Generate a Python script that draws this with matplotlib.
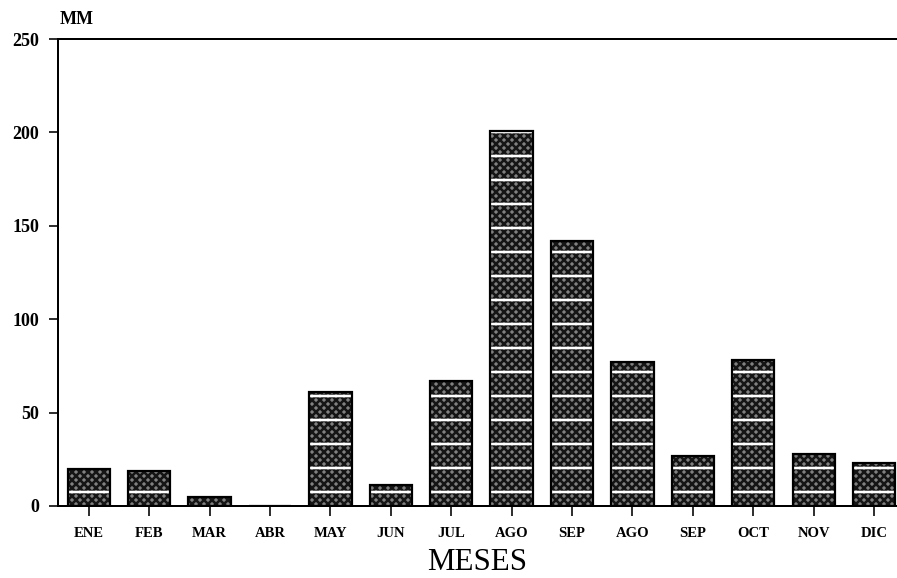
#!/usr/bin/python
# -*- coding: utf-8 -*-
# monthly rainfall bar chart (MM per month), scanned-report look

import numpy as np
import matplotlib as mpl
mpl.use('Agg')
from matplotlib import pyplot as plt

##########################################################################################
# data

months = ['ENE', 'FEB', 'MAR', 'ABR', 'MAY', 'JUN', 'JUL',
          'AGO', 'SEP', 'AGO', 'SEP', 'OCT', 'NOV', 'DIC']
rain_mm = [20, 19, 5, 0, 61, 11, 67, 201, 142, 77, 27, 78, 28, 23]
yticks = [0, 50, 100, 150, 200, 250]

def Plot(labels, values, outname = 'out.png'):

    DPI = 144.0   # chosen so that the 6 lines/inch '-' hatch lands every ~24 px

    mpl.rc('font', **{'family': 'serif', 'serif': ['Liberation Serif', 'DejaVu Serif']})
    mpl.rc('axes', linewidth = 1.0)
    mpl.rcParams['hatch.linewidth'] = 1.3

    ######################################################################################
    # set up figure
    f = plt.figure(figsize = (897.0 / DPI, 578.0 / DPI), dpi = DPI)
    ax1 = f.add_axes([58.0 / 897, 72.0 / 578, 1.0 - 58.0 / 897, (506.0 - 39.0) / 578])

    ax1.spines['right'].set_visible(False)

    ######################################################################################
    # bars: stippled grey fill, white horizontal bands, black outline
    x = np.arange(len(labels))
    barWidth = 0.70

    ax1.bar(x, values, width = barWidth,
            facecolor = '#808080', edgecolor = '#151515',
            hatch = 'xxxxxx', linewidth = 0.0, zorder = 2)
    ax1.bar(x, values, width = barWidth,
            fill = False, edgecolor = 'white',
            hatch = '-', linewidth = 0.0, zorder = 3)
    ax1.bar(x, values, width = barWidth,
            fill = False, edgecolor = 'black',
            linewidth = 1.1, zorder = 4)

    ######################################################################################
    # axes format
    ax1.set_xlim(-0.51, 13.38)
    ax1.set_ylim(0, 250)

    ax1.set_xticks(x)
    ax1.set_xticklabels(labels, fontsize = 7.3, fontweight = 'bold')
    ax1.set_yticks(yticks)
    ax1.set_yticklabels([str(v) for v in yticks], fontsize = 9.0, fontweight = 'bold')

    ax1.tick_params('x', direction = 'out', length = 5.0, width = 0.8, pad = 5.5)
    ax1.tick_params('y', direction = 'out', length = 4.5, width = 0.8, pad = 5.0)

    ######################################################################################
    # labeling
    ax1.set_xlabel('MESES', fontsize = 15.5)
    ax1.xaxis.labelpad = 4.0

    ax1.annotate('MM',
                 xy = (0.0, 1.0), xycoords = 'axes fraction',
                 xytext = (1.0, 5.5), textcoords = 'offset points',
                 fontsize = 9.0, fontweight = 'bold',
                 ha = 'left', va = 'bottom')

    ######################################################################################
    # save to file
    f.savefig(outname, dpi = DPI, facecolor = 'white')
    plt.close(f)

if __name__ == '__main__':
    Plot(months, rain_mm)
